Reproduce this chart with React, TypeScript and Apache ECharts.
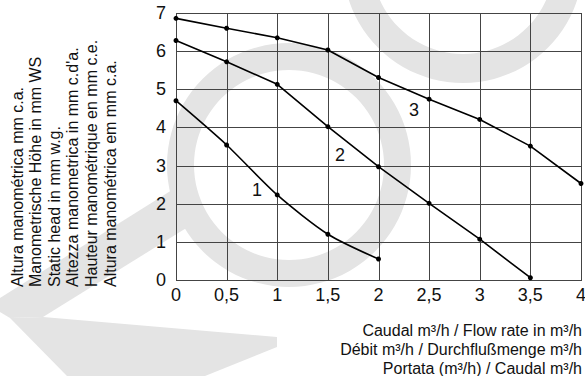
import React, { useEffect, useRef } from 'react';
import * as echarts from 'echarts';

// Flow rate (m³/h) at each measured point
const flowRates = [0, 0.5, 1, 1.5, 2, 2.5, 3, 3.5, 4];
// Head tick values (mm)
const headTicks = [0, 1, 2, 3, 4, 5, 6, 7];
// Static head (mm) for each pump speed curve
const curve1 = [4.7, 3.54, 2.23, 1.2, 0.55];
const curve2 = [6.28, 5.72, 5.13, 4.02, 2.97, 2.01, 1.07, 0.06];
const curve3 = [6.86, 6.6, 6.35, 6.03, 5.31, 4.74, 4.21, 3.51, 2.53];
// Curve name labels and where they sit (data coordinates)
const curveNames = ['1', '2', '3'];
const curveLabelCoords = [
  [0.8, 2.36],
  [1.62, 3.28],
  [2.35, 4.46],
];

const yTitleLines = [
  'Altura manométrica mm c.a.',
  'Manometrische Höhe in mm WS',
  'Static head in mm w.g.',
  'Altezza manometrica in mm c.d\'a.',
  'Hauteur manométrique en mm c.e.',
  'Altura manométrica em mm c.a.',
];
const xTitleLines = [
  'Caudal m³/h / Flow rate in m³/h',
  'Débit m³/h / Durchflußmenge m³/h',
  'Portata (m³/h) / Caudal m³/h',
];

const FONT = 'Liberation Sans, Arial, Helvetica, sans-serif';
const WM = '#e4e4e4';
const GRID = '#444444';

const layer: React.CSSProperties = { position: 'absolute', left: 0, top: 0, width: 585, height: 376 };

export default function App() {
  const bgRef = useRef<HTMLDivElement>(null);
  const fgRef = useRef<HTMLDivElement>(null);

  useEffect(() => {
    document.body.style.margin = '0';
    if (!bgRef.current || !fgRef.current) return;
    const bg = echarts.init(bgRef.current, null, { renderer: 'svg' });
    const fg = echarts.init(fgRef.current, null, { renderer: 'svg' });

    const xMin = flowRates[0];
    const xMax = flowRates[flowRates.length - 1];
    const yMin = headTicks[0];
    const yMax = headTicks[headTicks.length - 1];

    const curves = [curve1, curve2, curve3];
    fg.setOption({
      animation: false,
      grid: { left: 176, right: 4, top: 13, bottom: 96, outerBoundsMode: 'none' },
      xAxis: {
        type: 'value',
        min: xMin,
        max: xMax,
        interval: 0.5,
        axisLine: { show: false },
        axisTick: { show: false },
        axisLabel: {
          margin: 6,
          fontSize: 18,
          fontFamily: FONT,
          color: '#111',
          formatter: (v: number) => String(v).replace('.', ','),
        },
        splitLine: { show: false },
      },
      yAxis: {
        type: 'value',
        min: yMin,
        max: yMax,
        interval: 1,
        axisLine: { show: false },
        axisTick: { show: false },
        axisLabel: { margin: 10, fontSize: 18, fontFamily: FONT, color: '#111' },
        splitLine: { show: false },
      },
      series: curves.map((vals, i) => ({
        type: 'line',
        data: vals.map((v, j) => [flowRates[j], v]),
        smooth: i === 0 ? 0.25 : false,
        symbol: 'circle',
        symbolSize: 5,
        itemStyle: { color: '#000' },
        lineStyle: { color: '#000', width: 1.6 },
      })),
    });

    const px = (pt: number[]) => fg.convertToPixel({ gridIndex: 0 }, pt) as number[];

    const graphics: any[] = [
      // watermark
      { type: 'ring', shape: { cx: 289, cy: 165, r: 122, r0: 95 }, style: { fill: WM } },
      { type: 'ring', shape: { cx: 463, cy: -37, r: 120, r0: 91 }, style: { fill: WM } },
      {
        type: 'polygon',
        shape: { points: [[0, 298], [172, 190], [196, 222], [43, 317], [10, 318], [0, 312]] },
        style: { fill: WM },
      },
      {
        type: 'polygon',
        shape: { points: [[10, 318], [43, 317], [277, 337], [277, 347], [205, 376], [67, 376]] },
        style: { fill: WM },
      },
    ];

    // grid lines, placed through the chart's own scales
    const top = px([xMin, yMax])[1];
    const bottom = px([xMin, yMin])[1];
    const left = px([xMin, yMin])[0];
    const right = px([xMax, yMin])[0];
    const t0 = Math.round(top);
    const b0 = Math.round(bottom) + 1;
    const l0 = Math.round(left);
    const r0 = Math.round(right) + 1;
    flowRates.forEach((x) => {
      const cx = Math.round(px([x, yMin])[0]);
      graphics.push({
        type: 'polygon',
        shape: { points: [[cx, t0], [cx + 1, t0], [cx + 1, b0], [cx, b0]] },
        style: { fill: GRID },
      });
    });
    headTicks.forEach((y) => {
      const cy = Math.round(px([xMin, y])[1]);
      graphics.push({
        type: 'polygon',
        shape: { points: [[l0, cy], [r0, cy], [r0, cy + 1], [l0, cy + 1]] },
        style: { fill: GRID },
      });
    });

    yTitleLines.forEach((t, i) => {
      graphics.push({
        type: 'text',
        x: 17 + i * 18.6,
        y: 287,
        rotation: Math.PI / 2,
        style: { text: t, fontSize: 16, fontFamily: FONT, fill: '#111', align: 'left', verticalAlign: 'middle' },
      });
    });
    xTitleLines.forEach((t, i) => {
      graphics.push({
        type: 'text',
        x: 582,
        y: 330 + i * 19,
        style: { text: t, fontSize: 16, fontFamily: FONT, fill: '#111', align: 'right', verticalAlign: 'middle' },
      });
    });
    curveNames.forEach((name, i) => {
      const p = px(curveLabelCoords[i]);
      graphics.push({
        type: 'text',
        x: p[0],
        y: p[1],
        style: { text: name, fontSize: 18, fontFamily: FONT, fill: '#111', align: 'center', verticalAlign: 'middle' },
      });
    });

    bg.setOption({ animation: false, graphic: graphics });

    return () => {
      fg.dispose();
      bg.dispose();
    };
  }, []);

  return (
    <div style={{ position: 'relative', width: 585, height: 376 }}>
      <div ref={bgRef} style={layer} />
      <div ref={fgRef} style={layer} />
    </div>
  );
}
